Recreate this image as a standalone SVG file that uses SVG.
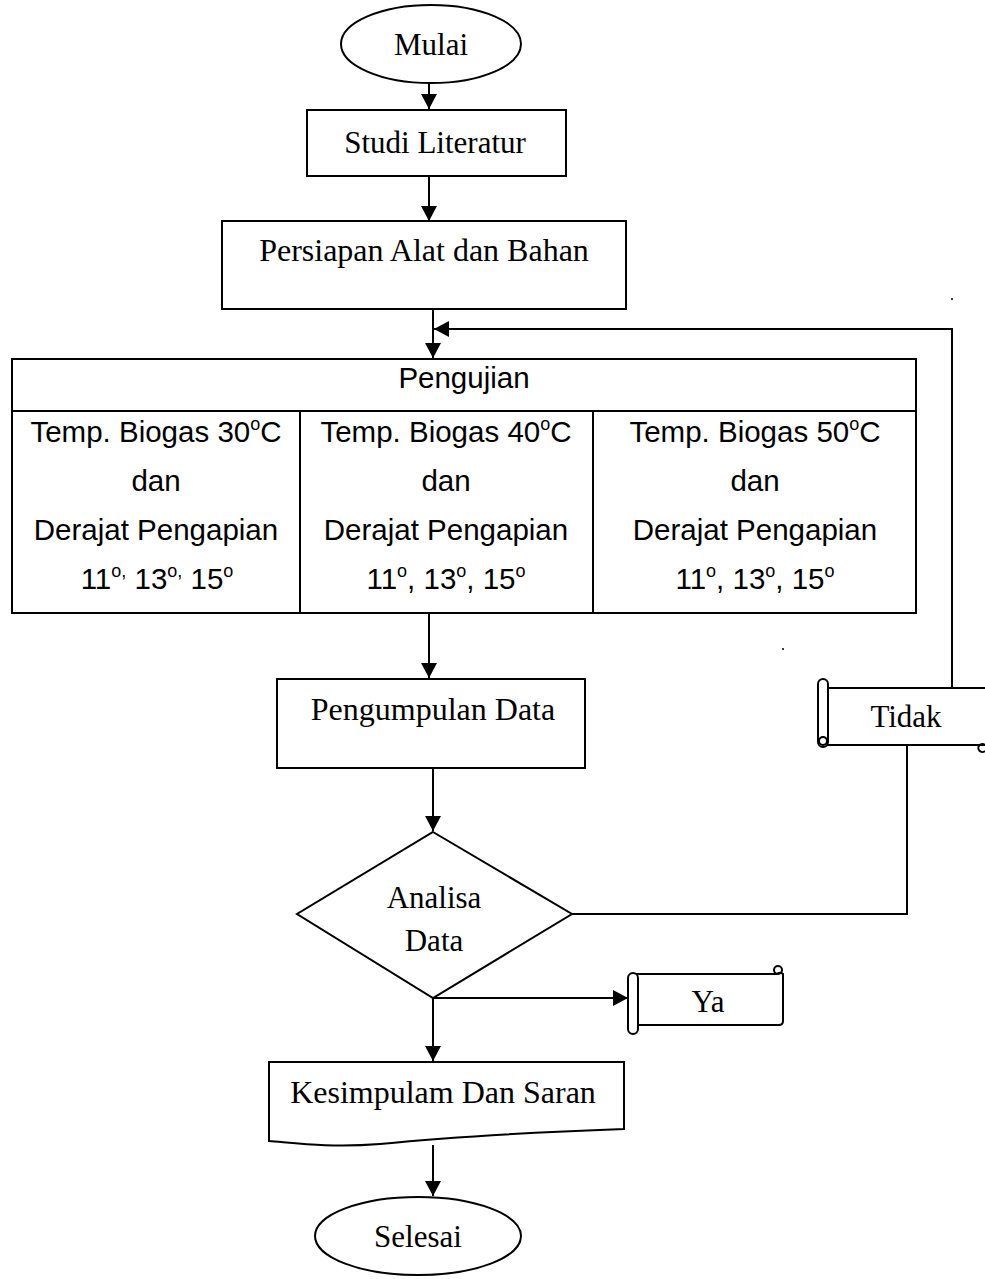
<svg xmlns="http://www.w3.org/2000/svg" width="985" height="1279" viewBox="0 0 985 1279">
<style>
.s{fill:#fff;stroke:#000;stroke-width:2}
.l{fill:none;stroke:#000;stroke-width:2}
.t{font-family:"Liberation Serif","Times New Roman",serif;font-size:31px;fill:#000;text-anchor:middle}
.b{font-size:32px}
.a{font-family:"Liberation Sans",Arial,sans-serif;font-size:29.5px;fill:#000;text-anchor:middle}
.sup{font-size:18px}
</style>
<defs>
<marker id="ah" markerWidth="15" markerHeight="16" refX="15" refY="8" orient="auto" markerUnits="userSpaceOnUse">
<path d="M0,0 L15,8 L0,16 Z" fill="#000"/>
</marker>
</defs>
<rect width="985" height="1279" fill="#fff"/>
<g id="connectors">
<path class="l" d="M429,83 V109" marker-end="url(#ah)"/>
<path class="l" d="M429,176 V221" marker-end="url(#ah)"/>
<path class="l" d="M433,309 V358" marker-end="url(#ah)"/>
<path class="l" d="M952,688 V329 H434" marker-end="url(#ah)"/>
<path class="l" d="M429,613 V678" marker-end="url(#ah)"/>
<path class="l" d="M433,768 V831" marker-end="url(#ah)"/>
<path class="l" d="M572,914 H907 V745"/>
<path class="l" d="M433,998 H628" marker-end="url(#ah)"/>
<path class="l" d="M433,998 V1061" marker-end="url(#ah)"/>
<path class="l" d="M433,1145 V1196" marker-end="url(#ah)"/>
</g>
<g id="mulai">
<ellipse class="s" cx="431" cy="44" rx="90" ry="39"/>
<text class="t" x="431" y="55">Mulai</text>
</g>
<g id="studi">
<rect class="s" x="307" y="110" width="259" height="66"/>
<text class="t" x="435" y="153">Studi Literatur</text>
</g>
<g id="persiapan">
<rect class="s" x="222" y="221" width="404" height="88"/>
<text class="t b" x="424" y="261">Persiapan Alat dan Bahan</text>
</g>
<g id="pengujian">
<rect class="s" x="12" y="359" width="904" height="254"/>
<path class="l" d="M12,411 H916 M300,411 V613 M593,411 V613"/>
<text class="a" x="464" y="388">Pengujian</text>
<text class="a" x="156" y="442">Temp. Biogas 30<tspan class="sup" dy="-12">o</tspan><tspan dy="12">C</tspan></text>
<text class="a" x="156" y="491">dan</text>
<text class="a" x="156" y="540">Derajat Pengapian</text>
<text class="a" x="157" y="589">11<tspan class="sup" dy="-12">o,</tspan><tspan dy="12"> 13</tspan><tspan class="sup" dy="-12">o,</tspan><tspan dy="12"> 15</tspan><tspan class="sup" dy="-12">o</tspan></text>
<text class="a" x="446" y="442">Temp. Biogas 40<tspan class="sup" dy="-12">o</tspan><tspan dy="12">C</tspan></text>
<text class="a" x="446" y="491">dan</text>
<text class="a" x="446" y="540">Derajat Pengapian</text>
<text class="a" x="446" y="589">11<tspan class="sup" dy="-12">o</tspan><tspan dy="12">, 13</tspan><tspan class="sup" dy="-12">o</tspan><tspan dy="12">, 15</tspan><tspan class="sup" dy="-12">o</tspan></text>
<text class="a" x="755" y="442">Temp. Biogas 50<tspan class="sup" dy="-12">o</tspan><tspan dy="12">C</tspan></text>
<text class="a" x="755" y="491">dan</text>
<text class="a" x="755" y="540">Derajat Pengapian</text>
<text class="a" x="755" y="589">11<tspan class="sup" dy="-12">o</tspan><tspan dy="12">, 13</tspan><tspan class="sup" dy="-12">o</tspan><tspan dy="12">, 15</tspan><tspan class="sup" dy="-12">o</tspan></text>
</g>
<g id="pengumpulan">
<rect class="s" x="277" y="679" width="308" height="89"/>
<text class="t b" x="433" y="720">Pengumpulan Data</text>
</g>
<g id="analisa">
<path class="s" d="M433,832 L572,914 L433,998 L297,914 Z"/>
<text class="t" x="434" y="908">Analisa</text>
<text class="t" x="434" y="951">Data</text>
</g>
<g id="tidak">
<path class="s" d="M826,688 H990 V745 H826 Z"/>
<rect class="s" x="818" y="679" width="10" height="68" rx="5"/>
<circle class="l" cx="823" cy="741" r="4"/>
<path class="l" d="M985,745 a4,4 0 1 0 0,6"/>
<text class="t" x="906" y="727">Tidak</text>
</g>
<g id="ya">
<path class="s" d="M633,974 H777 a4,4 0 0 1 6,0 V1021 q0,4 -4,4 H636 Z"/>
<circle class="l" cx="778" cy="970" r="4"/>
<rect class="s" x="628" y="973" width="10" height="61" rx="5"/>
<text class="t" x="708" y="1012">Ya</text>
</g>
<g id="kesimpulan">
<path class="s" d="M269,1062 H624 V1129 C540,1132 440,1138 380,1144 C330,1148 295,1143 269,1141 Z"/>
<text class="t b" x="443" y="1103">Kesimpulam Dan Saran</text>
</g>
<g id="selesai">
<ellipse class="s" cx="418" cy="1236" rx="103" ry="39"/>
<text class="t" x="418" y="1247">Selesai</text>
</g>
<circle cx="952" cy="299" r="1" fill="#000"/>
<circle cx="783" cy="649" r="1" fill="#000"/>
</svg>
